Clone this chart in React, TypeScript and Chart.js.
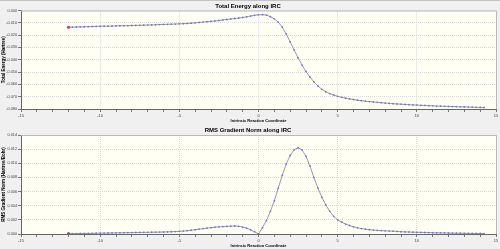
import React, { useEffect, useRef } from "react";
import { Chart, registerables } from "chart.js";

Chart.register(...registerables);

const xs = [
  -12, -11.75, -11.5, -11.25, -11, -10.75, -10.5, -10.25, -10, -9.75, -9.5, -9.25, -9, -8.75, -8.5, -8.25,
  -8, -7.75, -7.5, -7.25, -7, -6.75, -6.5, -6.25, -6, -5.75, -5.5, -5.25, -5, -4.75, -4.5, -4.25,
  -4, -3.75, -3.5, -3.25, -3, -2.75, -2.5, -2.25, -2, -1.75, -1.5, -1.25, -1, -0.75, -0.5, -0.25,
  0, 0.25, 0.5, 0.75, 1, 1.25, 1.5, 1.75, 2, 2.25, 2.5, 2.75, 3, 3.25, 3.5, 3.75,
  4, 4.25, 4.5, 4.75, 5, 5.25, 5.5, 5.75, 6, 6.25, 6.5, 6.75, 7, 7.25, 7.5, 7.75,
  8, 8.25, 8.5, 8.75, 9, 9.25, 9.5, 9.75, 10, 10.25, 10.5, 10.75, 11, 11.25, 11.5, 11.75,
  12, 12.25, 12.5, 12.75, 13, 13.25, 13.5, 13.75, 14, 14.25,
];

const energy = [
  -0.0136, -0.0135, -0.0134, -0.0133, -0.0132, -0.0131, -0.013, -0.0129, -0.0128, -0.0127, -0.0127, -0.0126, -0.0125, -0.0124, -0.0124, -0.0123,
  -0.0122, -0.0121, -0.012, -0.0119, -0.0118, -0.0117, -0.0116, -0.0114, -0.0113, -0.0112, -0.0111, -0.011, -0.0108, -0.0107, -0.0105, -0.0103,
  -0.01, -0.0097, -0.0094, -0.0091, -0.0088, -0.0085, -0.0081, -0.0077, -0.0073, -0.0069, -0.0065, -0.0061, -0.0057, -0.0051, -0.0045, -0.0039,
  -0.0035, -0.0034, -0.0037, -0.005, -0.0068, -0.0095, -0.0135, -0.019, -0.0255, -0.032, -0.0385, -0.0443, -0.0495, -0.054, -0.058, -0.0613,
  -0.064, -0.066, -0.0675, -0.0687, -0.0697, -0.0705, -0.0712, -0.0718, -0.0723, -0.0728, -0.0732, -0.0736, -0.074, -0.0743, -0.0746, -0.0749,
  -0.0752, -0.0754, -0.0757, -0.0759, -0.0761, -0.0763, -0.0765, -0.0767, -0.0768, -0.077, -0.0771, -0.0773, -0.0774, -0.0776, -0.0777, -0.0778,
  -0.0779, -0.078, -0.0781, -0.0782, -0.0783, -0.0784, -0.0785, -0.0786, -0.0787, -0.0788,
];

const gradient = [
  0.00004, 0.00005, 0.00006, 0.00007, 0.00008, 0.00009, 0.0001, 0.00011, 0.00012, 0.00013, 0.00014, 0.00015, 0.00016, 0.00017, 0.00018, 0.00019,
  0.0002, 0.00021, 0.00022, 0.00023, 0.00024, 0.00025, 0.00026, 0.00027, 0.00028, 0.0003, 0.00032, 0.00035, 0.00038, 0.00042, 0.00047, 0.00053,
  0.0006, 0.00068, 0.00076, 0.00083, 0.0009, 0.00096, 0.00101, 0.00105, 0.00108, 0.00111, 0.00113, 0.00108, 0.00098, 0.00082, 0.0006, 0.00032,
  0.00002, 0.0009, 0.0019, 0.0032, 0.0047, 0.0065, 0.0083, 0.0099, 0.0111, 0.0119, 0.0122, 0.0119, 0.011, 0.0096, 0.008, 0.0065,
  0.0052, 0.0041, 0.0032, 0.0025, 0.002, 0.0017, 0.0014, 0.0012, 0.00102, 0.00088, 0.00077, 0.00068, 0.00061, 0.00056, 0.00052, 0.00048,
  0.00045, 0.00042, 0.0004, 0.00037, 0.00032, 0.0003, 0.00028, 0.00026, 0.00024, 0.00023, 0.00021, 0.0002, 0.00018, 0.00017, 0.00016, 0.00015,
  0.00014, 0.00013, 0.00012, 0.00011, 0.0001, 0.000095, 0.00009, 0.00008, 0.00007, 0.00006,
];

const xTickLabels = ["-15", "-10", "-5", "0", "5", "10", "15"];
const xMajorValues = [-15, -10, -5, 0, 5, 10, 15];

const FONT = "'Liberation Sans', Arial, sans-serif";

const panelPlugin = {
  id: "panel",
  beforeDraw(chart: any, _args: any, opts: any) {
    const { ctx, chartArea } = chart;
    ctx.save();
    ctx.fillStyle = "#fffff3";
    ctx.fillRect(chartArea.left, chartArea.top, chartArea.right - chartArea.left, chartArea.bottom - chartArea.top);
    if (opts && opts.topLine) {
      ctx.fillStyle = "#c4c4c4";
      ctx.fillRect(0, 0, chart.width, 1);
    }
    ctx.restore();
  },
  afterDraw(chart: any) {
    const { ctx, chartArea } = chart;
    ctx.save();
    ctx.strokeStyle = "#b8b8b8";
    ctx.lineWidth = 1;
    ctx.beginPath();
    ctx.moveTo(chartArea.left, chartArea.top + 0.5);
    ctx.lineTo(chartArea.right + 0.5, chartArea.top + 0.5);
    ctx.lineTo(chartArea.right + 0.5, chartArea.bottom);
    ctx.stroke();
    ctx.restore();
  },
};

function makeConfig(
  title: string,
  yTitle: string,
  values: number[],
  yMin: number,
  yMax: number,
  yStep: number,
  titlePad: { top: number; bottom: number },
  topLine: boolean
): any {
  return {
    type: "scatter",
    data: {
      datasets: [
        {
          data: xs.map((x, i) => ({ x, y: values[i] })),
          showLine: true,
          borderColor: "#9c9c9c",
          borderWidth: 1,
          tension: 0,
          pointRadius: (c: any) => (c.dataIndex === 0 ? 1.6 : 0.9),
          pointBackgroundColor: (c: any) => (c.dataIndex === 0 ? "#e0306a" : "rgba(100,100,240,0.85)"),
          pointBorderWidth: 0,
        },
      ],
    },
    options: {
      animation: false,
      responsive: false,
      devicePixelRatio: 1,
      layout: { padding: { left: 0, right: 4, top: 0, bottom: 0 } },
      plugins: {
        legend: { display: false },
        tooltip: { enabled: false },
        title: {
          display: true,
          text: title,
          color: "#000",
          font: { family: FONT, size: 6, weight: "bold", lineHeight: 1.2 },
          padding: titlePad,
        },
        panel: { topLine },
      },
      scales: {
        x: {
          type: "linear",
          min: -15,
          max: 15,
          afterFit: (s: any) => {
            s.height = 15;
          },
          afterBuildTicks: (s: any) => {
            const t: any[] = [];
            for (let v = -15; v <= 15; v += 1) t.push({ value: v });
            s.ticks = t;
          },
          ticks: {
            autoSkip: false,
            maxRotation: 0,
            padding: 1,
            color: "#444",
            font: { family: FONT, size: 4 },
            callback: (v: number) => {
              const idx = xMajorValues.indexOf(Math.round(v));
              return idx >= 0 && Math.abs(v - Math.round(v)) < 1e-6 ? xTickLabels[idx] : "";
            },
          },
          grid: {
            color: (c: any) =>
              c.tick && xMajorValues.indexOf(Math.round(c.tick.value)) >= 0 ? "#dadada" : "rgba(0,0,0,0)",
            tickColor: "#777",
            tickLength: 3,
            tickBorderDash: [],
          },
          border: { display: true, color: "#666", width: 1, dash: [1, 1] },
          title: {
            display: true,
            text: "Intrinsic Reaction Coordinate",
            color: "#000",
            font: { family: FONT, size: 4, weight: "bold", lineHeight: 1.2 },
            padding: { top: 0, bottom: 1 },
          },
        },
        y: {
          type: "linear",
          min: yMin,
          max: yMax,
          afterFit: (s: any) => {
            s.width = 21;
          },
          ticks: {
            stepSize: yStep,
            padding: 1,
            color: "#444",
            font: { family: FONT, size: 3.8 },
            callback: (v: number) => (Math.abs(v) < 1e-9 ? 0 : v).toFixed(3),
          },
          grid: {
            color: "#dadada",
            tickColor: "#777",
            tickLength: 3,
            tickBorderDash: [],
          },
          border: { display: true, color: "#666", width: 1, dash: [1, 1] },
          title: {
            display: true,
            text: yTitle,
            color: "#000",
            font: { family: FONT, size: 4.5, weight: "bold", lineHeight: 1.2 },
            padding: { top: 1, bottom: 0 },
          },
        },
      },
    },
    plugins: [panelPlugin],
  };
}

function Panel(props: { cfg: any; height: number }) {
  const ref = useRef<HTMLCanvasElement | null>(null);
  useEffect(() => {
    if (!ref.current) return;
    const chart = new Chart(ref.current, props.cfg);
    return () => chart.destroy();
  }, []);
  return <canvas ref={ref} width={500} height={props.height} style={{ display: "block", width: 500, height: props.height }} />;
}

export default function App() {
  useEffect(() => {
    document.body.style.margin = "0";
    document.body.style.background = "#f0f0f0";
  }, []);
  const top = makeConfig(
    "Total Energy along IRC",
    "Total Energy (Hartree)",
    energy,
    -0.08,
    0,
    0.01,
    { top: 2.5, bottom: 0.8 },
    true
  );
  const bottom = makeConfig(
    "RMS Gradient Norm along IRC",
    "RMS Gradient Norm (Hartree/Bohr)",
    gradient,
    0,
    0.014,
    0.002,
    { top: 2.9, bottom: 0.9 },
    false
  );
  return (
    <div style={{ width: 500, height: 249, background: "#f0f0f0", overflow: "hidden" }}>
      <Panel cfg={top} height={124} />
      <Panel cfg={bottom} height={125} />
    </div>
  );
}
